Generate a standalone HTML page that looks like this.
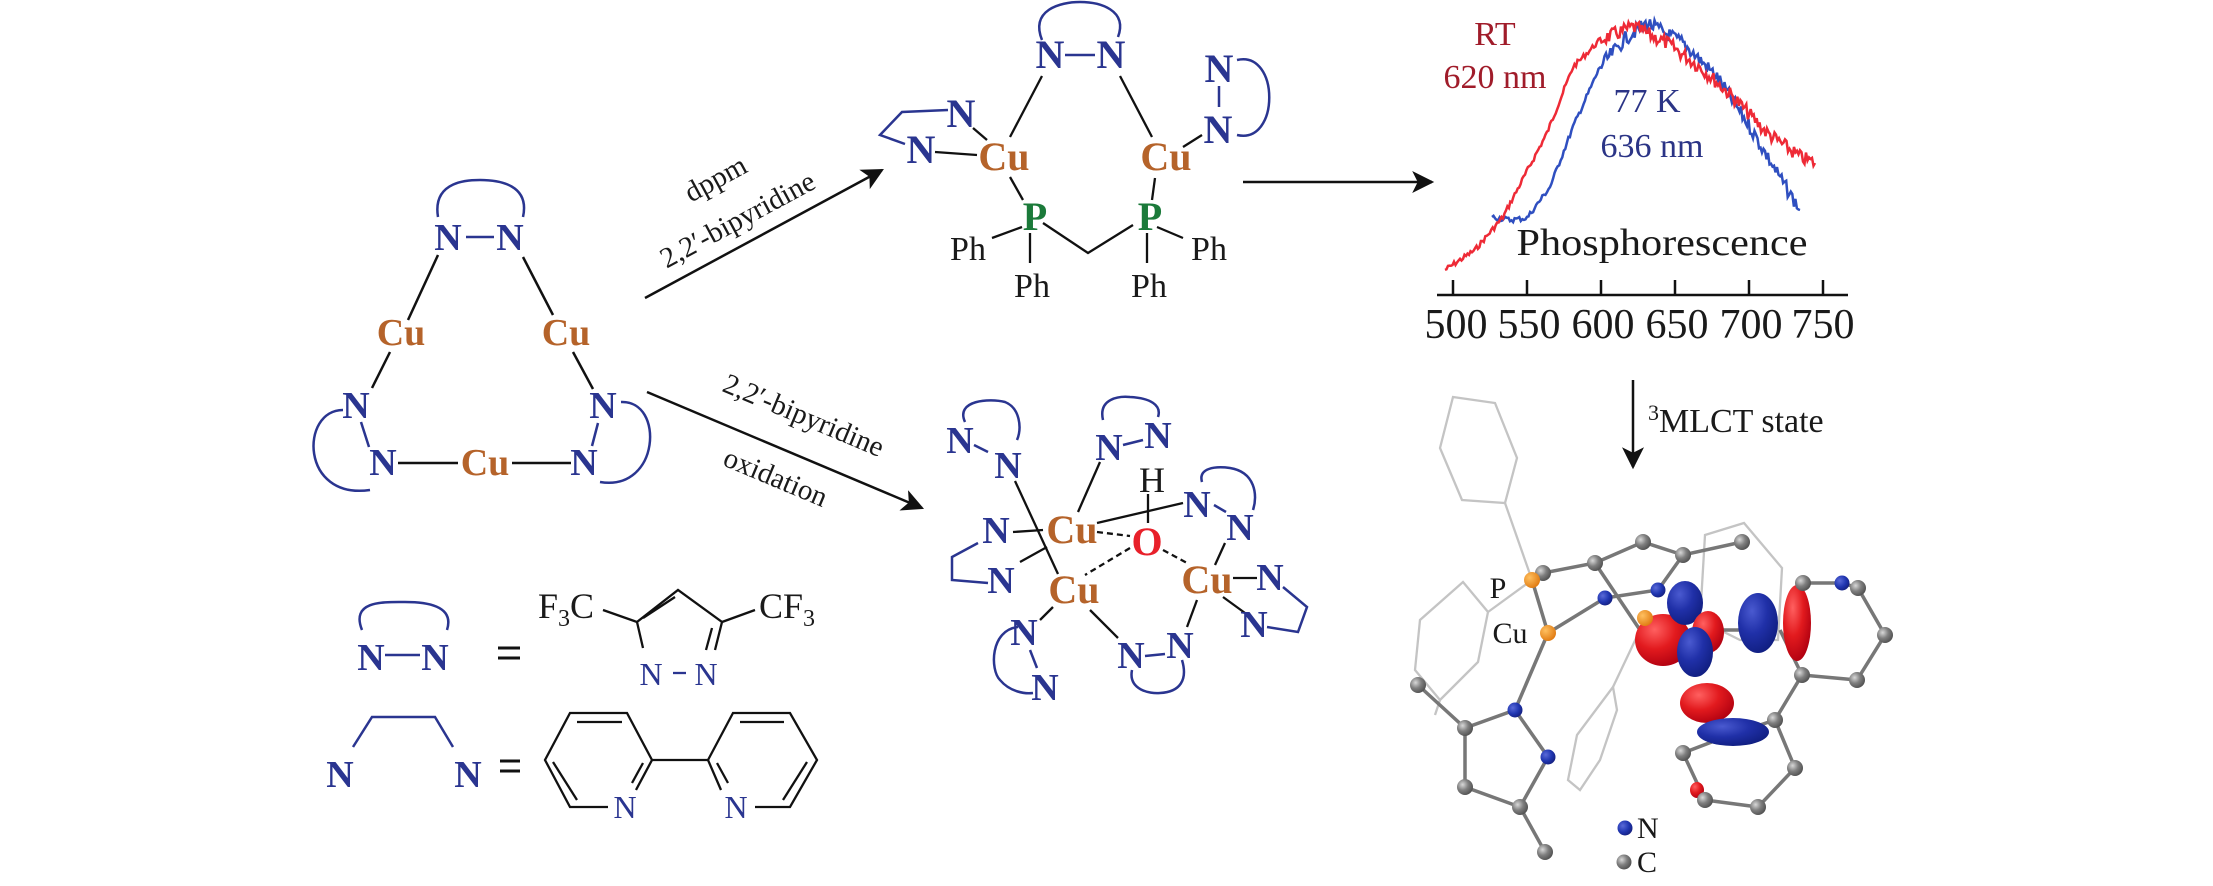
<!DOCTYPE html>
<html><head><meta charset="utf-8"><style>
html,body{margin:0;padding:0;background:#fff;}
svg{display:block;}
.n{fill:#2a3590;font-family:"Liberation Serif",serif;font-weight:bold;}
.cu{fill:#b5632a;font-family:"Liberation Serif",serif;font-weight:bold;}
.t{font-family:"Liberation Serif",serif;fill:#1a1a1a;}
</style></head><body>
<svg id="s" width="2213" height="886" viewBox="0 0 2213 886" xmlns="http://www.w3.org/2000/svg">
<defs>
<marker id="ah" viewBox="0 0 10 10" refX="9" refY="5" markerWidth="26" markerHeight="22" markerUnits="userSpaceOnUse" orient="auto"><path d="M0,0 L10,5 L0,10 L2.5,5z" fill="#111"/></marker>
<radialGradient id="gC" cx="35%" cy="35%" r="70%"><stop offset="0" stop-color="#d8d8d8"/><stop offset="0.5" stop-color="#808080"/><stop offset="1" stop-color="#505050"/></radialGradient>
<radialGradient id="gN" cx="35%" cy="35%" r="70%"><stop offset="0" stop-color="#5a6ad8"/><stop offset="0.6" stop-color="#1f35b0"/><stop offset="1" stop-color="#152080"/></radialGradient>
<radialGradient id="gO" cx="35%" cy="35%" r="70%"><stop offset="0" stop-color="#ffc060"/><stop offset="1" stop-color="#e07a10"/></radialGradient>
<radialGradient id="gR" cx="35%" cy="30%" r="75%"><stop offset="0" stop-color="#ff6060"/><stop offset="0.5" stop-color="#e21a1e"/><stop offset="1" stop-color="#b00010"/></radialGradient>
<radialGradient id="gB" cx="35%" cy="30%" r="75%"><stop offset="0" stop-color="#4a5ad0"/><stop offset="0.5" stop-color="#2030a8"/><stop offset="1" stop-color="#101e80"/></radialGradient>
</defs>

<!-- ===== Left triangle ===== -->
<g stroke="#111" stroke-width="2.5" fill="none">
<line x1="438" y1="255" x2="408" y2="320"/>
<line x1="523" y1="257" x2="553" y2="315"/>
<line x1="390" y1="352" x2="372" y2="388"/>
<line x1="573" y1="352" x2="593" y2="389"/>
<line x1="398" y1="463" x2="458" y2="463"/>
<line x1="512" y1="463" x2="571" y2="463"/>
</g>
<g stroke="#2a3590" stroke-width="2.5" fill="none">
<path d="M438,217 C432,180 470,180 480,180 C500,180 530,185 523,217"/>
<line x1="466" y1="237" x2="494" y2="237"/>
<line x1="361" y1="422" x2="369" y2="447"/>
<line x1="598" y1="423" x2="592" y2="446"/>
<path d="M343,410 C300,410 300,500 370,490"/>
<path d="M621,402 C665,400 660,492 600,482"/>
</g>
<g class="n" font-size="38" text-anchor="middle">
<text x="448" y="250">N</text><text x="510" y="250">N</text>
<text x="356" y="418">N</text><text x="383" y="475">N</text>
<text x="603" y="418">N</text><text x="584" y="475">N</text>
</g>
<g class="cu" font-size="38" text-anchor="middle">
<text x="401" y="345">Cu</text><text x="566" y="345">Cu</text><text x="485" y="475">Cu</text>
</g>

<!-- ===== Arrows ===== -->
<line x1="645" y1="298" x2="882" y2="170" stroke="#111" stroke-width="2.5" marker-end="url(#ah)"/>
<g class="t" font-size="29" text-anchor="middle">
<text transform="translate(720,187) rotate(-28.4)">dppm</text>
<text transform="translate(742,228) rotate(-28.4)">2,2′-bipyridine</text>
</g>
<line x1="647" y1="392" x2="922" y2="508" stroke="#111" stroke-width="2.5" marker-end="url(#ah)"/>
<g class="t" font-size="29" text-anchor="middle">
<text transform="translate(800,424) rotate(22.8)">2,2′-bipyridine</text>
<text transform="translate(772,486) rotate(22.8)">oxidation</text>
</g>
<line x1="1243" y1="182" x2="1432" y2="182" stroke="#111" stroke-width="2.5" marker-end="url(#ah)"/>
<line x1="1633" y1="380" x2="1633" y2="467" stroke="#111" stroke-width="2.5" marker-end="url(#ah)"/>

<!-- ===== Product 1 ===== -->
<g stroke="#111" stroke-width="2.3" fill="none">
<line x1="1042" y1="76" x2="1010" y2="137"/>
<line x1="1120" y1="76" x2="1152" y2="137"/>
<line x1="973" y1="128" x2="987" y2="140"/>
<line x1="935" y1="152" x2="977" y2="155"/>
<line x1="1183" y1="147" x2="1202" y2="135"/>
<line x1="1010" y1="177" x2="1023" y2="200"/>
<line x1="1155" y1="178" x2="1152" y2="200"/>
<polyline points="1043,223 1088,253 1133,225"/>
<line x1="992" y1="238" x2="1022" y2="227"/>
<line x1="1030" y1="233" x2="1030" y2="263"/>
<line x1="1157" y1="227" x2="1183" y2="238"/>
<line x1="1147" y1="233" x2="1147" y2="263"/>
</g>
<g stroke="#2a3590" stroke-width="2.5" fill="none">
<path d="M1042,40 C1030,10 1060,2 1080,2 C1100,2 1128,10 1118,37"/>
<line x1="1065" y1="55" x2="1095" y2="55"/>
<polyline points="948,110 902,112 880,135 905,144"/>
<line x1="1219" y1="86" x2="1219" y2="107"/>
<path d="M1237,60 C1280,50 1280,145 1237,135"/>
</g>
<g class="n" font-size="40" text-anchor="middle">
<text x="1050" y="68">N</text><text x="1111" y="68">N</text>
<text x="961" y="127">N</text><text x="921" y="163">N</text>
<text x="1219" y="82">N</text><text x="1218" y="143">N</text>
</g>
<g class="cu" font-size="40" text-anchor="middle">
<text x="1004" y="170">Cu</text><text x="1166" y="170">Cu</text>
</g>
<g font-family="Liberation Serif,serif" font-weight="bold" font-size="40" fill="#1b7a3a" text-anchor="middle">
<text x="1035" y="230">P</text><text x="1150" y="230">P</text>
</g>
<g class="t" font-size="34" text-anchor="middle">
<text x="968" y="260">Ph</text><text x="1032" y="297">Ph</text>
<text x="1209" y="260">Ph</text><text x="1149" y="297">Ph</text>
</g>

<!-- ===== Product 2 ===== -->
<g stroke="#111" stroke-width="2.3" fill="none">
<line x1="1100" y1="462" x2="1078" y2="512"/>
<line x1="1015" y1="481" x2="1058" y2="574"/>
<line x1="1097" y1="523" x2="1183" y2="503"/>
<line x1="1148" y1="494" x2="1148" y2="523"/>
<line x1="1013" y1="532" x2="1043" y2="530"/>
<line x1="1020" y1="562" x2="1047" y2="547"/>
<line x1="1233" y1="578" x2="1257" y2="578"/>
<line x1="1223" y1="597" x2="1245" y2="613"/>
<line x1="1225" y1="543" x2="1215" y2="565"/>
<line x1="1197" y1="600" x2="1187" y2="627"/>
<line x1="1090" y1="610" x2="1118" y2="638"/>
<line x1="1053" y1="607" x2="1040" y2="620"/>
<g stroke-dasharray="6,4">
<line x1="1097" y1="532" x2="1130" y2="536"/>
<line x1="1130" y1="548" x2="1085" y2="575"/>
<line x1="1163" y1="550" x2="1187" y2="563"/>
</g>
</g>
<g stroke="#2a3590" stroke-width="2.5" fill="none">
<path d="M965,422 C955,400 990,398 1005,402 C1020,408 1022,428 1017,440"/>
<line x1="974" y1="445" x2="988" y2="452"/>
<path d="M1103,420 C1098,398 1120,396 1130,397 C1150,398 1162,405 1158,417"/>
<line x1="1123" y1="445" x2="1143" y2="440"/>
<path d="M1202,482 C1198,468 1215,466 1230,468 C1255,472 1258,495 1253,510"/>
<line x1="1214" y1="505" x2="1226" y2="512"/>
<polyline points="978,543 952,557 952,580 988,583"/>
<polyline points="1283,587 1307,607 1298,632 1267,627"/>
<path d="M1132,670 C1128,690 1150,694 1160,693 C1180,692 1188,680 1182,660"/>
<line x1="1145" y1="656" x2="1165" y2="654"/>
<path d="M1018,627 C990,630 990,670 1000,680 C1010,692 1025,694 1033,693"/>
<line x1="1030" y1="650" x2="1037" y2="668"/>
</g>
<g class="n" font-size="38" text-anchor="middle">
<text x="960" y="453">N</text><text x="1008" y="478">N</text>
<text x="1109" y="460">N</text><text x="1158" y="448">N</text>
<text x="1197" y="517">N</text><text x="1240" y="540">N</text>
<text x="996" y="543">N</text><text x="1001" y="593">N</text>
<text x="1270" y="590">N</text><text x="1254" y="637">N</text>
<text x="1131" y="668">N</text><text x="1180" y="658">N</text>
<text x="1024" y="645">N</text><text x="1045" y="700">N</text>
</g>
<text x="1152" y="492" class="t" font-size="36" text-anchor="middle">H</text>
<g class="cu" font-size="40" text-anchor="middle">
<text x="1072" y="543">Cu</text><text x="1074" y="603">Cu</text><text x="1207" y="593">Cu</text>
</g>
<text x="1147" y="555" font-family="Liberation Serif,serif" font-weight="bold" font-size="40" fill="#e8202a" text-anchor="middle">O</text>

<!-- ===== Legend ===== -->
<g stroke="#2a3590" stroke-width="2.5" fill="none">
<path d="M362,630 C350,600 385,602 405,602 C425,602 455,605 447,630"/>
<line x1="385" y1="655" x2="420" y2="655"/>
<polyline points="353,747 372,717 435,717 453,747"/>
</g>
<g class="n" font-size="38" text-anchor="middle">
<text x="371" y="670">N</text><text x="435" y="670">N</text>
<text x="340" y="787">N</text><text x="468" y="787">N</text>
</g>
<g stroke="#111" stroke-width="3">
<line x1="498" y1="648" x2="520" y2="648"/><line x1="498" y1="658" x2="520" y2="658"/>
<line x1="500" y1="761" x2="520" y2="761"/><line x1="500" y1="771" x2="520" y2="771"/>
</g>
<g stroke="#111" stroke-width="2.3" fill="none">
<line x1="603" y1="610" x2="637" y2="622"/>
<polyline points="643,648 637,622 678,590 722,622 715,650"/>
<line x1="643" y1="618" x2="675" y2="597"/>
<line x1="712" y1="628" x2="706" y2="650"/>
<line x1="722" y1="622" x2="755" y2="610"/>
<line x1="673" y1="673" x2="686" y2="673" stroke="#2a3590"/>
<polyline points="608,807 570,807 545,760 570,713 627,713 652,760 636,790"/>
<line x1="577" y1="722" x2="622" y2="722"/>
<line x1="553" y1="762" x2="577" y2="800"/>
<line x1="643" y1="763" x2="632" y2="783"/>
<line x1="652" y1="760" x2="708" y2="760"/>
<polyline points="721,790 708,760 733,713 790,713 817,760 790,807 755,807"/>
<line x1="740" y1="722" x2="784" y2="722"/>
<line x1="717" y1="763" x2="728" y2="783"/>
<line x1="807" y1="762" x2="783" y2="800"/>
</g>
<g class="t" font-size="36">
<text x="538" y="618">F<tspan font-size="24" dy="8">3</tspan><tspan dy="-8">C</tspan></text>
<text x="759" y="618">CF<tspan font-size="24" dy="8">3</tspan></text>
</g>
<g font-family="Liberation Serif,serif" font-size="32" fill="#2a3590" text-anchor="middle">
<text x="651" y="685">N</text><text x="706" y="685">N</text>
<text x="625" y="818">N</text><text x="736" y="818">N</text>
</g>

<!-- ===== Spectrum ===== -->
<g font-family="Liberation Serif,serif" text-anchor="middle">
<text x="1495" y="45" font-size="34" fill="#a01c2a">RT</text>
<text x="1495" y="88" font-size="34" fill="#a01c2a">620 nm</text>
<text x="1647" y="112" font-size="34" fill="#2b3486">77 K</text>
<text x="1652" y="157" font-size="34" fill="#2b3486">636 nm</text>
</g>
<polyline id="blue" fill="none" stroke="#2f4fc0" stroke-width="2.5"/>
<polyline id="red" fill="none" stroke="#ee2a36" stroke-width="2.5"/>
<text x="1662" y="255" class="t" font-size="38" text-anchor="middle" textLength="291" lengthAdjust="spacingAndGlyphs">Phosphorescence</text>
<g stroke="#111" stroke-width="2.5">
<line x1="1437" y1="295" x2="1848" y2="295"/>
<line x1="1453" y1="280" x2="1453" y2="295"/><line x1="1527" y1="280" x2="1527" y2="295"/>
<line x1="1601" y1="280" x2="1601" y2="295"/><line x1="1675" y1="280" x2="1675" y2="295"/>
<line x1="1749" y1="280" x2="1749" y2="295"/><line x1="1823" y1="280" x2="1823" y2="295"/>
</g>
<g class="t" font-size="42" text-anchor="middle">
<text x="1456" y="338">500</text><text x="1529" y="338">550</text><text x="1603" y="338">600</text>
<text x="1677" y="338">650</text><text x="1751" y="338">700</text><text x="1823" y="338">750</text>
</g>
<text x="1648" y="432" class="t" font-size="34"><tspan font-size="22" dy="-12">3</tspan><tspan dy="12">MLCT state</tspan></text>

<!-- ===== Molecule ===== -->
<g stroke="#c4c4c4" stroke-width="2.3" fill="none">
<polygon points="1453,397 1495,403 1517,458 1505,503 1462,500 1440,448"/>
<line x1="1505" y1="503" x2="1532" y2="580"/>
<polygon points="1463,582 1488,612 1478,662 1440,700 1415,670 1420,620"/>
<line x1="1488" y1="612" x2="1532" y2="580"/>
<line x1="1440" y1="700" x2="1435" y2="715"/>
<polygon points="1613,687 1617,710 1600,760 1580,790 1568,780 1577,735"/>
<line x1="1640" y1="630" x2="1613" y2="687"/>
<polygon points="1705,535 1744,523 1782,568 1778,640 1740,640 1700,620"/>
</g>
<g stroke="#777" stroke-width="3.5" fill="none">
<polyline points="1532,580 1543,573 1595,563 1643,542 1683,555 1742,542"/>
<line x1="1532" y1="580" x2="1548" y2="633"/>
<line x1="1548" y1="633" x2="1605" y2="598"/>
<line x1="1605" y1="598" x2="1658" y2="590"/>
<line x1="1683" y1="555" x2="1658" y2="590"/>
<line x1="1595" y1="563" x2="1640" y2="630"/>
<line x1="1548" y1="633" x2="1515" y2="710"/>
<polyline points="1418,685 1465,728 1515,710 1548,757 1520,807 1465,787 1465,728"/>
<line x1="1520" y1="807" x2="1545" y2="852"/>
<polyline points="1803,583 1842,583 1858,588 1885,635 1857,680 1802,675 1780,630"/>
<polyline points="1802,675 1775,720 1795,768 1758,807 1705,800 1683,753 1730,735 1775,720"/>
<line x1="1700" y1="630" x2="1760" y2="630"/>
</g>
<g>
<ellipse cx="1663" cy="640" rx="28" ry="26" fill="url(#gR)"/>
<ellipse cx="1685" cy="603" rx="18" ry="22" fill="url(#gB)"/>
<ellipse cx="1708" cy="632" rx="16" ry="21" fill="url(#gR)"/>
<ellipse cx="1695" cy="652" rx="18" ry="25" fill="url(#gB)"/>
<ellipse cx="1758" cy="623" rx="20" ry="30" fill="url(#gB)"/>
<ellipse cx="1797" cy="623" rx="14" ry="38" fill="url(#gR)"/>
<ellipse cx="1707" cy="703" rx="27" ry="20" fill="url(#gR)"/>
<ellipse cx="1733" cy="732" rx="36" ry="14" fill="url(#gB)"/>
<ellipse cx="1697" cy="790" rx="7" ry="8" fill="url(#gR)"/>
</g>
<g id="atoms"></g>
<g font-family="Liberation Serif,serif" font-size="30" fill="#1a1a1a">
<text x="1498" y="598" text-anchor="middle">P</text>
<text x="1510" y="643" text-anchor="middle">Cu</text>
<text x="1637" y="838">N</text>
<text x="1637" y="872">C</text>
</g>
</svg>
<script>
(function(){
var seed=7;function r(){seed=(seed*9301+49297)%233280;return seed/233280-0.5;}
function curve(pts,id,noise,step){
 var out=[];
 for(var i=0;i<pts.length-1;i++){
  var a=pts[i],b=pts[i+1];var n=Math.max(1,Math.round((b[0]-a[0])/step));
  for(var k=0;k<n;k++){var t=k/n;var x=a[0]+(b[0]-a[0])*t;var y=a[1]+(b[1]-a[1])*t;
   var amp=noise*(x>1600?1.6:0.6);out.push(x.toFixed(1)+","+(y+r()*amp).toFixed(1));}
 }
 var l=pts[pts.length-1];out.push(l[0]+","+l[1]);
 document.getElementById(id).setAttribute("points",out.join(" "));
}
curve([[1445,270],[1475,250],[1503,217],[1525,175],[1547,133],[1560,100],[1573,67],[1600,40],[1633,27],[1667,43],[1700,67],[1733,97],[1767,133],[1800,157],[1815,163]],"red",9,1.5);
curve([[1492,217],[1510,220],[1527,218],[1550,187],[1573,127],[1600,67],[1627,37],[1647,23],[1683,43],[1717,77],[1750,127],[1777,173],[1800,210]],"blue",9,1.5);
var C=[[1543,573],[1595,563],[1643,542],[1683,555],[1742,542],[1803,583],[1858,588],[1885,635],[1857,680],[1802,675],[1775,720],[1795,768],[1758,807],[1705,800],[1683,753],[1418,685],[1465,728],[1465,787],[1520,807],[1545,852]];
var N=[[1605,598],[1658,590],[1842,583],[1515,710],[1548,757]];
var O=[[1532,580],[1548,633],[1645,618]];
var g=document.getElementById("atoms"),ns="http://www.w3.org/2000/svg";
function add(l,f,rad){l.forEach(function(p){var c=document.createElementNS(ns,"circle");c.setAttribute("cx",p[0]);c.setAttribute("cy",p[1]);c.setAttribute("r",rad);c.setAttribute("fill",f);g.appendChild(c);});}
add(C,"url(#gC)",8);add(N,"url(#gN)",7.5);add(O,"url(#gO)",8);
add([[1625,828]],"url(#gN)",7.5);add([[1624,862]],"url(#gC)",7.5);
})();
</script>
</body></html>
